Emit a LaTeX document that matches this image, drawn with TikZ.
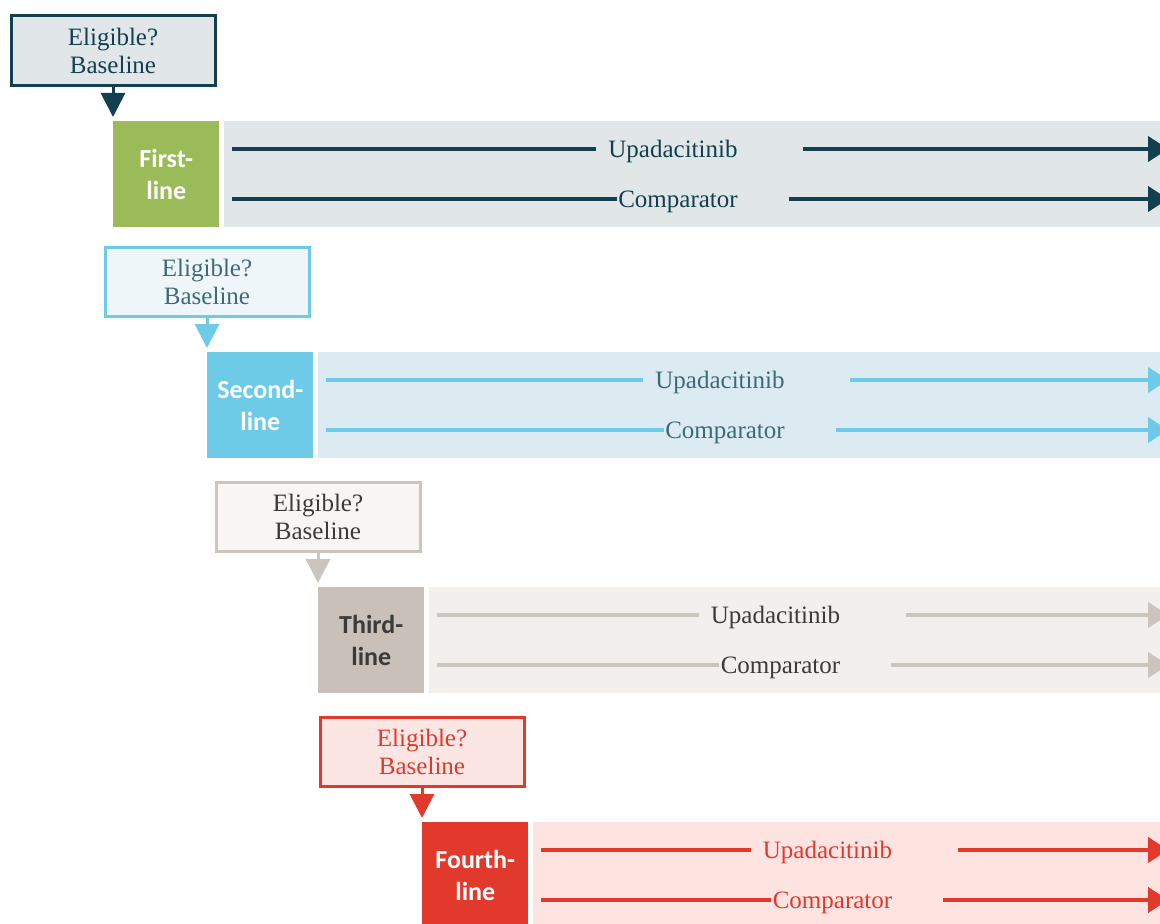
\documentclass[tikz,border=0pt]{standalone}
\usepackage{fontspec}
\setmainfont{Liberation Serif}
\newfontfamily\stagefont{Carlito}
\usetikzlibrary{arrows.meta}

\definecolor{tealink}{HTML}{12404F}
\definecolor{tealpale}{HTML}{E1E6E9}
\definecolor{greenstage}{HTML}{9BBB59}
\definecolor{bluestage}{HTML}{6DCBE8}
\definecolor{bluepale}{HTML}{EEF6FA}
\definecolor{blueband}{HTML}{DCEBF1}
\definecolor{blueink}{HTML}{3E6A77}
\definecolor{taupestage}{HTML}{C8C0B9}
\definecolor{taupeedge}{HTML}{CCC5BE}
\definecolor{taupepale}{HTML}{F8F6F4}
\definecolor{taupeband}{HTML}{F2EFEC}
\definecolor{greyink}{HTML}{3A3A3A}
\definecolor{redstage}{HTML}{E2392D}
\definecolor{redpale}{HTML}{FCE6E3}
\definecolor{redband}{HTML}{FDE4E0}
\definecolor{redink}{HTML}{E0392F}

\begin{document}
\begin{tikzpicture}[x=0.75pt,y=-0.75pt]

\tikzstyle{eligbox}=[draw, line width=2.25pt, minimum width=153pt, minimum height=52pt, inner sep=0pt, align=center, anchor=north west, font=\fontsize{18.75}{21}\selectfont]
\tikzstyle{stagebox}=[minimum width=79.5pt, minimum height=79.5pt, inner sep=0pt, align=center, anchor=north west, font=\stagefont\bfseries\fontsize{19.5}{24}\selectfont]
\tikzstyle{armtext}=[anchor=base, inner sep=1pt, font=\fontsize{18.75}{21}\selectfont]
\tikzstyle{armline}=[line width=2.5pt]
\tikzstyle{armtip}=[-{Triangle[length=15pt,width=19pt]}]

\useasboundingbox (0,0) rectangle (1160,924);
\clip (0,0) rectangle (1160,924);

\foreach \x/\y/\txt/\stage/\edge/\pale/\band/\ink/\stageink [count=\i] in {
    113/121/{First-\\line}/greenstage/tealink/tealpale/tealpale/tealink/white,
    207/352/{Second-\\line}/bluestage/bluestage/bluepale/blueband/blueink/white,
    318/587/{Third-\\line}/taupestage/taupeedge/taupepale/taupeband/greyink/greyink,
    422/822/{Fourth-\\line}/redstage/redstage/redpale/redband/redink/white} {

    % eligibility check and stage
    \node[eligbox, draw=\edge, fill=\pale, text=\ink] (el\i) at (\x-103.5,\y-106.5) {Eligible?\\Baseline};
    \node[stagebox, fill=\stage, text=\stageink] (st\i) at (\x,\y) {\txt};
    \draw[line width=2.25pt, \edge, -{Triangle[length=18pt,width=18pt]}] (el\i.south) -- ([yshift=3pt]el\i.south |- st\i.north);

    % treatment band
    \fill[\band] (\x+111,\y) rectangle (1160,\y+106);
    \coordinate (us\i) at (\x+119,\y+28);
    \coordinate (ue\i) at (1168,\y+28);
    \coordinate (cs\i) at (\x+119,\y+78);
    \coordinate (ce\i) at (1168,\y+78);
    \node[armtext, text=\ink] (up\i) at ({(\x+111+1160)/2-19},\y+36) {Upadacitinib};
    \node[armtext, text=\ink] (cp\i) at ({(\x+111+1160)/2-14},\y+86) {Comparator};

    \draw[armline, \edge] (us\i) -- ([xshift=-8pt]us\i -| up\i.west);
    \draw[armline, armtip, \edge] ([xshift=48pt]up\i.east |- us\i) -- (ue\i);
    \draw[armline, \edge] (cs\i) -- (cs\i -| cp\i.west);
    \draw[armline, armtip, \edge] ([xshift=37pt]cp\i.east |- cs\i) -- (ce\i);
}

\end{tikzpicture}
\end{document}
